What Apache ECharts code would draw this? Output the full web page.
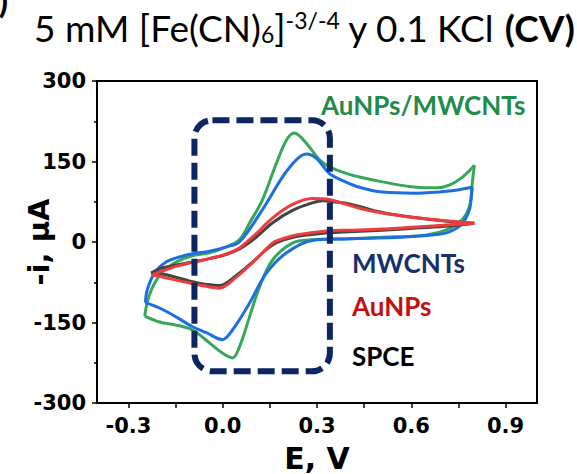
<!DOCTYPE html>
<html><head><meta charset="utf-8">
<script src="https://cdn.jsdelivr.net/npm/echarts@6/dist/echarts.min.js"></script>
<style>html,body{margin:0;padding:0;background:#fff}#c{width:577px;height:474px}</style>
</head><body><div id="c"></div>
<script>
// ---- data (E in V, -i in µA) ----
const spceForward = [[-0.228,-58],[-0.19,-48],[-0.147,-43],[-0.096,-37],[-0.042,-31],[0.012,-23],[0.053,-13],[0.1,6],[0.159,36],[0.222,59],[0.285,73],[0.32,77],[0.35,75],[0.403,71],[0.508,55],[0.616,45],[0.721,38],[0.8,35]];
const spceReverse = [[0.8,35],[0.721,30],[0.616,26],[0.508,22],[0.403,19],[0.339,17],[0.234,10],[0.16,-5],[0.094,-38],[0.044,-62],[-0.011,-81],[-0.074,-77],[-0.147,-66],[-0.211,-58],[-0.228,-58]];
const aunpsForward = [[-0.223,-61],[-0.147,-45],[-0.096,-38],[-0.042,-31],[0.012,-22],[0.053,-11],[0.1,12],[0.159,45],[0.222,70],[0.285,81],[0.33,80],[0.371,74],[0.435,63],[0.508,54],[0.616,45],[0.721,39],[0.801,35]];
const aunpsReverse = [[0.801,35],[0.721,32],[0.616,28],[0.508,24],[0.403,22],[0.339,21],[0.234,13],[0.18,4],[0.158,-2],[0.094,-39],[0.044,-65],[-0.011,-86],[-0.074,-80],[-0.147,-71],[-0.211,-63],[-0.223,-61]];
const mwcntsForward = [[-0.246,-113],[-0.24,-89],[-0.217,-58],[-0.179,-37],[-0.138,-28],[-0.096,-22],[-0.042,-17],[0.012,-9],[0.053,0],[0.126,60],[0.19,121],[0.234,153],[0.266,164],[0.298,156],[0.339,128],[0.38,115],[0.435,102],[0.508,93],[0.616,91],[0.721,95],[0.794,102]];
const mwcntsReverse = [[0.794,102],[0.79,80],[0.785,60],[0.763,35],[0.721,19],[0.667,13],[0.562,9],[0.457,7],[0.403,6],[0.285,3],[0.203,-20],[0.139,-58],[0.085,-114],[0.031,-164],[-0.001,-182],[-0.052,-169],[-0.096,-158],[-0.147,-140],[-0.201,-123],[-0.246,-113]];
const auMwForward = [[-0.248,-138],[-0.24,-112],[-0.223,-84],[-0.192,-56],[-0.147,-37],[-0.1,-26],[-0.042,-20],[0.012,-9],[0.053,4],[0.085,35],[0.126,78],[0.171,147],[0.203,190],[0.228,203],[0.266,184],[0.308,153],[0.339,140],[0.393,128],[0.435,121],[0.508,112],[0.616,102],[0.68,101],[0.721,106],[0.763,121],[0.801,143]];
const auMwReverse = [[0.801,143],[0.794,110],[0.788,73],[0.769,47],[0.731,28],[0.68,17],[0.616,11],[0.508,9],[0.403,6],[0.285,4],[0.222,-2],[0.158,-34],[0.117,-84],[0.085,-140],[0.053,-196],[0.031,-216],[-0.001,-207],[-0.042,-188],[-0.096,-164],[-0.147,-155],[-0.201,-149],[-0.248,-138]];
const xTickValues = [-0.3,-0.15,0,0.15,0.3,0.45,0.6,0.75,0.9];
const xLabelValues = [-0.3,0,0.3,0.6,0.9];
const curveNames = ['SPCE','AuNPs','MWCNTs','AuNPs/MWCNTs'];

const chart = echarts.init(document.getElementById('c'), null, {renderer:'svg'});
const C = {spce:'#444444', aunps:'#ee3b3b', mw:'#1c6fe3', aumw:'#37a85a'};
function line(name, data, color, z){
  return {type:'line', name, data, smooth:0.35, smoothMonotone:null, symbol:'none', showSymbol:false,
    lineStyle:{color, width:3}, itemStyle:{color}, z, silent:true, animation:false};
}
const lab = {fontFamily:'DejaVu Sans', fontWeight:'bold', fontSize:21, color:'#000'};
chart.setOption({
  animation:false,
  grid:{left:97, right:40, top:81, bottom:71, outerBoundsMode:'none', containLabel:false,
    show:true, borderColor:'#000', borderWidth:2, backgroundColor:'transparent'},
  xAxis:{type:'value', min:-0.4, max:1.0,
    axisLine:{onZero:false, lineStyle:{color:'#000', width:2}},
    axisTick:{show:true, customValues:xTickValues, inside:false, length:5, lineStyle:{color:'#000', width:1.5}},
    axisLabel:Object.assign({customValues:xLabelValues, margin:12, formatter:v=>Number(v).toFixed(1)}, lab),
    splitLine:{show:false},
    name:'E, V', nameLocation:'middle', nameGap:40,
    nameTextStyle:{fontFamily:'DejaVu Sans', fontWeight:'bold', fontSize:30, color:'#000'}},
  yAxis:{type:'value', min:-300, max:300, interval:150,
    axisLine:{onZero:false, lineStyle:{color:'#000', width:2}},
    axisTick:{show:true, inside:false, length:5, lineStyle:{color:'#000', width:1.5}},
    minorTick:{show:true, splitNumber:2, length:3, lineStyle:{color:'#000', width:1.5}},
    axisLabel:Object.assign({margin:11}, lab),
    splitLine:{show:false},
    name:'-i, µA', nameLocation:'middle', nameGap:44, nameRotate:90, nameMoveOverlap:false,
    nameTextStyle:{fontFamily:'DejaVu Sans', fontWeight:'bold', fontSize:29, color:'#000'}},
  series:[
    line(curveNames[3], auMwForward, C.aumw, 3), line(curveNames[3], auMwReverse, C.aumw, 3),
    line(curveNames[2], mwcntsForward, C.mw, 4), line(curveNames[2], mwcntsReverse, C.mw, 4),
    line(curveNames[0], spceForward, C.spce, 5), line(curveNames[0], spceReverse, C.spce, 5),
    line(curveNames[1], aunpsForward, C.aunps, 6), line(curveNames[1], aunpsReverse, C.aunps, 6)
  ]
});

// annotation box (data-space corners)
const tl = chart.convertToPixel({gridIndex:0}, [-0.09, 227]);
const br = chart.convertToPixel({gridIndex:0}, [0.341, -241]);
const lblFont = 'bold 26px Lato';
chart.setOption({graphic:[
  {type:'rect', z:50, shape:{x:tl[0], y:tl[1], width:br[0]-tl[0], height:br[1]-tl[1], r:18},
    style:{fill:'none', stroke:'#0d2560', lineWidth:6, lineDash:[17,7]}},
  {type:'text', z:60, x:34, y:27, style:{text:'5 mM [Fe(CN){sub|6}]{sup|-3/-4} y 0.1 KCl {b|(CV)}',
    font:'37px Lato', fill:'#000', verticalAlign:'middle', align:'left',
    rich:{sub:{fontSize:23, fontFamily:'Lato', lineHeight:4, verticalAlign:'bottom'},
          sup:{fontSize:23, fontFamily:'Lato', lineHeight:14, verticalAlign:'top'},
          b:{fontSize:37, fontFamily:'Lato', fontWeight:'bold'}}}},
  {type:'text', z:60, x:8, y:16, style:{text:')', font:'bold 34px Lato', fill:'#000', align:'right', verticalAlign:'bottom'}},
  {type:'text', z:60, x:321, y:105, style:{text:curveNames[3], font:lblFont, fill:'#1f8b4c', verticalAlign:'middle'}},
  {type:'text', z:60, x:352, y:263, style:{text:curveNames[2], font:lblFont, fill:'#17306b', verticalAlign:'middle'}},
  {type:'text', z:60, x:352, y:306, style:{text:curveNames[1], font:lblFont, fill:'#c40f12', verticalAlign:'middle'}},
  {type:'text', z:60, x:352, y:356, style:{text:curveNames[0], font:lblFont, fill:'#000', verticalAlign:'middle'}}
]});
</script></body></html>
